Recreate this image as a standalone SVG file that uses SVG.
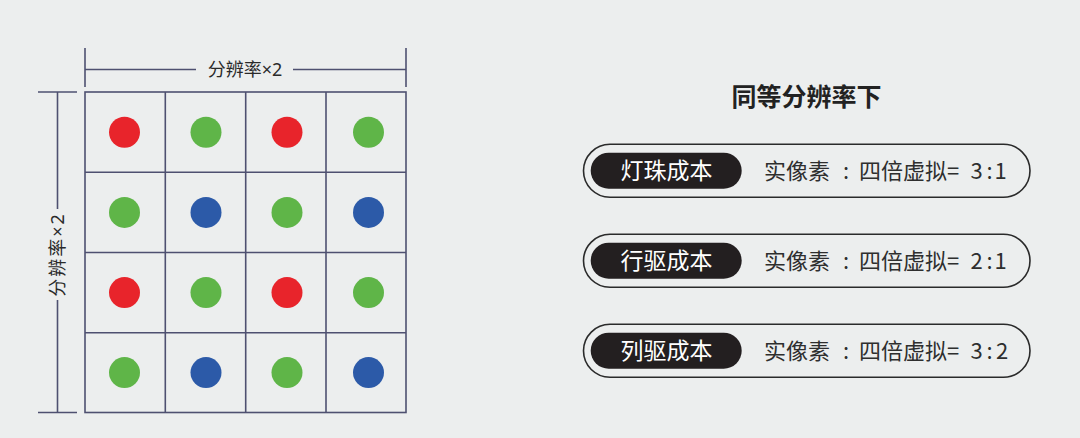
<svg xmlns="http://www.w3.org/2000/svg" width="1080" height="438" viewBox="0 0 1080 438">
<defs>
<style>
.ln{stroke:#4e5070;stroke-width:1.6;fill:none}
.dim{font-family:"Noto Sans CJK SC","Noto Sans",sans-serif;font-size:18px;fill:#2a2a2a}
.lat{font-family:"Noto Sans",sans-serif}
.r{fill:#e8242b}.g{fill:#5fb548}.b{fill:#2c5aa8}
.pill{fill:none;stroke:#2a2a2a;stroke-width:1.6}
.tag{fill:#231f20}
.tagt{font-family:"Noto Sans CJK SC",sans-serif;font-size:23px;fill:#ffffff;text-anchor:middle}
.val{font-family:"Noto Sans CJK SC","Noto Sans",sans-serif;font-size:22px;fill:#2e2e2e}
.ttl{font-family:"Noto Sans CJK SC",sans-serif;font-size:25px;font-weight:bold;fill:#222;text-anchor:middle}
</style>
</defs>
<rect width="1080" height="438" fill="#eceeee"/>
<g id="dimensions">
<line class="ln" x1="85" y1="48" x2="85" y2="87"/>
<line class="ln" x1="406" y1="48" x2="406" y2="87"/>
<line class="ln" x1="85" y1="69.5" x2="196" y2="69.5"/>
<line class="ln" x1="293" y1="69.5" x2="406" y2="69.5"/>
<text class="dim" x="245" y="76" text-anchor="middle">分辨率<tspan class="lat">×2</tspan></text>
<line class="ln" x1="38" y1="92" x2="77" y2="92"/>
<line class="ln" x1="38" y1="412.5" x2="77" y2="412.5"/>
<line class="ln" x1="57.5" y1="92" x2="57.5" y2="209"/>
<line class="ln" x1="57.5" y1="300" x2="57.5" y2="412.5"/>
<text class="dim" transform="translate(64,254.5) rotate(-90)" text-anchor="middle" letter-spacing="2">分辨率<tspan class="lat">×2</tspan></text>
</g>
<g id="grid">
<rect class="ln" x="85" y="92" width="321" height="320.5"/>
<line class="ln" x1="165.3" y1="92" x2="165.3" y2="412.5"/>
<line class="ln" x1="245.7" y1="92" x2="245.7" y2="412.5"/>
<line class="ln" x1="326" y1="92" x2="326" y2="412.5"/>
<line class="ln" x1="85" y1="172.3" x2="406" y2="172.3"/>
<line class="ln" x1="85" y1="252.5" x2="406" y2="252.5"/>
<line class="ln" x1="85" y1="332.7" x2="406" y2="332.7"/>
</g>
<g id="dots">
<circle class="r" cx="124.5" cy="132.2" r="15.5"/>
<circle class="g" cx="206" cy="132.2" r="15.5"/>
<circle class="r" cx="287" cy="132.2" r="15.5"/>
<circle class="g" cx="368.5" cy="132.2" r="15.5"/>
<circle class="g" cx="124.5" cy="212.4" r="15.5"/>
<circle class="b" cx="206" cy="212.4" r="15.5"/>
<circle class="g" cx="287" cy="212.4" r="15.5"/>
<circle class="b" cx="368.5" cy="212.4" r="15.5"/>
<circle class="r" cx="124.5" cy="292.6" r="15.5"/>
<circle class="g" cx="206" cy="292.6" r="15.5"/>
<circle class="r" cx="287" cy="292.6" r="15.5"/>
<circle class="g" cx="368.5" cy="292.6" r="15.5"/>
<circle class="g" cx="124.5" cy="372.6" r="15.5"/>
<circle class="b" cx="206" cy="372.6" r="15.5"/>
<circle class="g" cx="287" cy="372.6" r="15.5"/>
<circle class="b" cx="368.5" cy="372.6" r="15.5"/>
</g>
<g id="title">
<text class="ttl" x="806.5" y="106">同等分辨率下</text>
</g>
<g id="row1">
<rect class="pill" x="583.5" y="144.3" width="446.5" height="53" rx="26.5"/>
<rect class="tag" x="590.7" y="152.7" width="151" height="36" rx="18"/>
<text class="tagt" x="666.5" y="179">灯珠成本</text>
<text class="val" y="179"><tspan x="764">实像素</tspan><tspan x="843">:</tspan><tspan x="859">四倍虚拟=</tspan><tspan x="970.5">3</tspan><tspan x="986.5">:</tspan><tspan x="994.5">1</tspan></text>
</g>
<g id="row2">
<rect class="pill" x="583.5" y="234.3" width="446.5" height="53" rx="26.5"/>
<rect class="tag" x="590.7" y="242.7" width="151" height="36" rx="18"/>
<text class="tagt" x="666.5" y="269">行驱成本</text>
<text class="val" y="269"><tspan x="764">实像素</tspan><tspan x="843">:</tspan><tspan x="859">四倍虚拟=</tspan><tspan x="970.5">2</tspan><tspan x="986.5">:</tspan><tspan x="994.5">1</tspan></text>
</g>
<g id="row3">
<rect class="pill" x="583.5" y="324.3" width="446.5" height="53" rx="26.5"/>
<rect class="tag" x="590.7" y="332.7" width="151" height="36" rx="18"/>
<text class="tagt" x="666.5" y="359">列驱成本</text>
<text class="val" y="359"><tspan x="764">实像素</tspan><tspan x="843">:</tspan><tspan x="859">四倍虚拟=</tspan><tspan x="970.5">3</tspan><tspan x="986.5">:</tspan><tspan x="996">2</tspan></text>
</g>
</svg>
